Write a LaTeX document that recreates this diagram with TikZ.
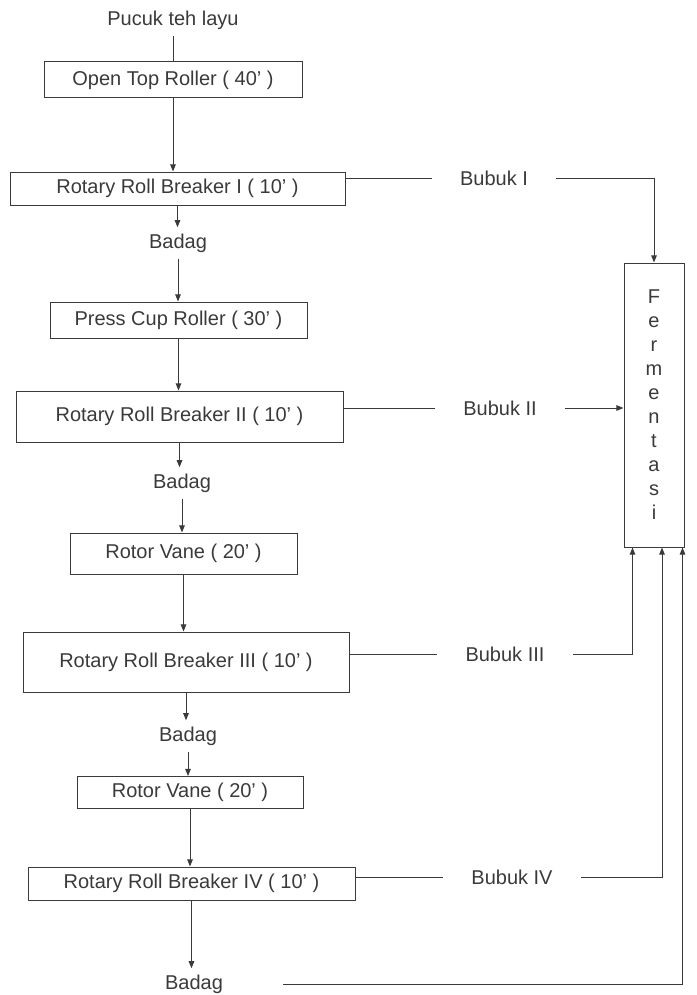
\documentclass[tikz,border=0pt]{standalone}
\usepackage{fontspec}
\setmainfont{Liberation Sans}
\usetikzlibrary{arrows.meta,positioning}
\definecolor{ink}{HTML}{3A3A3A}

\begin{document}
\begin{tikzpicture}[
    x=0.5pt, y=-0.5pt,
    every node/.style={font=\fontsize{10}{12}\selectfont, text=ink},
    box/.style={rectangle, draw=ink, line width=0.5pt, align=center},
    txt/.style={inner sep=3pt},
    bub/.style={inner xsep=14pt},
    link/.style={draw=ink, line width=0.5pt},
    arrow/.style={link, -{Triangle[length=3.6pt, width=2.8pt]}}
  ]
    \useasboundingbox (0,0) rectangle (696,995);
    % main chain
    \node[txt] (pucuk) at (173,20) {Pucuk teh layu};
    \node[box, minimum width=129pt, minimum height=18pt] (roller) at (173,80) {Open Top Roller ( 40' )};
    \node[box, minimum width=167.5pt, minimum height=16.5pt] (rrb1) at (177.5,188.5) {Rotary Roll Breaker I ( 10' )};
    \node[txt] (badag1) at (178,243) {Badag};
    \node[box, minimum width=128.5pt, minimum height=18pt] (press) at (178.5,320) {Press Cup Roller ( 30' )};
    \node[box, minimum width=163.5pt, minimum height=25.5pt] (rrb2) at (179.5,416.5) {Rotary Roll Breaker II ( 10' )};
    \node[txt] (badag2) at (182,483) {Badag};
    \node[box, minimum width=113.5pt, minimum height=20.5pt] (vane1) at (183.5,553.5) {Rotor Vane ( 20' )};
    \node[box, minimum width=163pt, minimum height=30pt] (rrb3) at (186,662) {Rotary Roll Breaker III ( 10' )};
    \node[txt] (badag3) at (188,736) {Badag};
    \node[box, minimum width=113pt, minimum height=15.5pt] (vane2) at (190,792.5) {Rotor Vane ( 20' )};
    \node[box, minimum width=163.5pt, minimum height=16.5pt] (rrb4) at (191.5,883.5) {Rotary Roll Breaker IV ( 10' )};
    \node[txt] (badag4) at (194,984) {Badag};
    \draw[link] (pucuk) -- (roller);
    \foreach \a/\b in {roller/rrb1, rrb1/badag1, badag1/press, press/rrb2, rrb2/badag2,
                       badag2/vane1, vane1/rrb3, rrb3/badag3, badag3/vane2, vane2/rrb4, rrb4/badag4}
      \draw[arrow] (\a.south) -- (\a.south |- \b.north);
    % fermentation
    \node[box, minimum width=30pt, minimum height=142pt] (ferm) at (654,405)
      {F\\e\\r\\m\\e\\n\\t\\a\\s\\i};
    \node[bub] (bub1) at (494,178) {Bubuk I};
    \node[bub] (bub2) at (500,408) {Bubuk II};
    \node[bub] (bub3) at (505,654) {Bubuk III};
    \node[bub] (bub4) at (512,877) {Bubuk IV};
    \draw[link] (rrb1.east |- bub1) -- (bub1);
    \draw[link] (rrb2.east |- bub2) -- (bub2);
    \draw[link] (rrb3.east |- bub3) -- (bub3);
    \draw[link] (rrb4.east |- bub4) -- (bub4);
    \draw[arrow] (bub1) -| (ferm.north);
    \draw[arrow] (bub2) -- (bub2 -| ferm.west);
    \draw[arrow] (bub3) -| ([xshift=4.5pt]ferm.south west);
    \draw[arrow] (bub4) -| ([xshift=4pt]ferm.south);
    \draw[arrow, shorten <=27pt] (badag4) -| ([xshift=-1pt]ferm.south east);
  \end{tikzpicture}
\end{document}
